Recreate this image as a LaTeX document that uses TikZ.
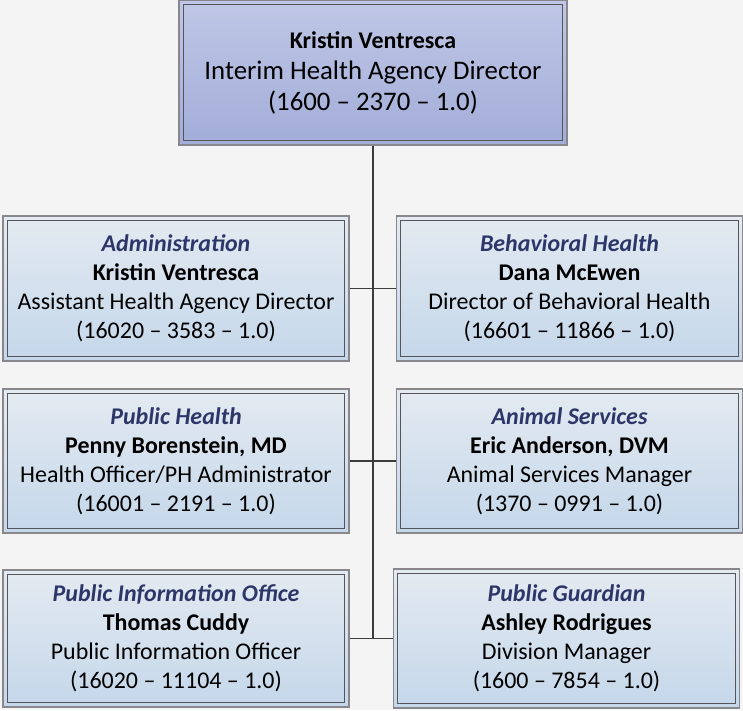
\documentclass[tikz,border=0pt]{standalone}
\usepackage{fontspec}
\setmainfont{Carlito}
\definecolor{bg}{RGB}{244,244,244}
\definecolor{toptop}{RGB}{192,199,230}
\definecolor{topbot}{RGB}{162,173,216}
\definecolor{boxtop}{RGB}{228,234,241}
\definecolor{boxbot}{RGB}{196,215,234}
\definecolor{outerc}{RGB}{135,135,140}
\definecolor{innerc}{RGB}{85,85,90}
\definecolor{linec}{RGB}{60,60,60}
\definecolor{navy}{RGB}{44,54,104}
\tikzset{
  orgbox/.style={rectangle, draw=outerc, line width=1.2pt, top color=boxtop, bottom color=boxbot,
    minimum width=346pt, minimum height=145pt, align=center, inner sep=0pt,
    font=\fontsize{23.95}{29}\selectfont, text=black},
  headbox/.style={orgbox, top color=toptop, bottom color=topbot, minimum width=388pt,
    font=\fontsize{26.8}{31}\selectfont},
  innerline/.style={draw=innerc, line width=0.9pt},
  conn/.style={draw=linec, line width=1.4pt},
}
\newcommand{\unit}[1]{{\color{navy}\bfseries\itshape #1}}
\begin{document}
\begin{tikzpicture}[x=1pt,y=-1pt]
\fill[bg] (0,0) rectangle (743,710);
\useasboundingbox (0,0) rectangle (743,710);

\node[headbox] (top) at (373,72.5) {{\fontsize{23.95}{29}\selectfont\bfseries Kristin Ventresca}\\Interim Health Agency Director\\(1600 – 2370 – 1.0)};

\node[orgbox] (adm) at (176,288.5) {\unit{Administration}\\{\bfseries Kristin Ventresca}\\Assistant Health Agency Director\\(16020 – 3583 – 1.0)};
\node[orgbox] (bh) at (569.5,288.5) {\unit{Behavioral Health}\\{\bfseries Dana McEwen}\\Director of Behavioral Health\\(16601 – 11866 – 1.0)};

\node[orgbox, minimum height=144pt] (ph) at (176,461) {\unit{Public Health}\\{\bfseries Penny Borenstein, MD}\\Health Officer/PH Administrator\\(16001 – 2191 – 1.0)};
\node[orgbox, minimum height=144pt] (as) at (569.5,461) {\unit{Animal Services}\\{\bfseries Eric Anderson, DVM}\\Animal Services Manager\\(1370 – 0991 – 1.0)};

\node[orgbox, minimum height=137pt] (pio) at (176,638.5) {\unit{Public Information Office}\\{\bfseries Thomas Cuddy}\\Public Information Officer\\(16020 – 11104 – 1.0)};
\node[orgbox, minimum height=139pt] (pg) at (566.5,638.5) {\unit{Public Guardian}\\{\bfseries Ashley Rodrigues}\\Division Manager\\(1600 – 7854 – 1.0)};

\foreach \n in {top,adm,bh,ph,as,pio,pg}
  \draw[innerline] ([shift={(5,5)}]\n.north west) rectangle ([shift={(-5,-5)}]\n.south east);

\coordinate (j3) at (top.south |- pio.east);
\draw[conn] (top.south) -- (j3);
\draw[conn] (adm.east) -- (bh.west);
\draw[conn] (ph.east) -- (as.west);
\draw[conn] (pio.east) -- (pg.west);
\end{tikzpicture}
\end{document}
